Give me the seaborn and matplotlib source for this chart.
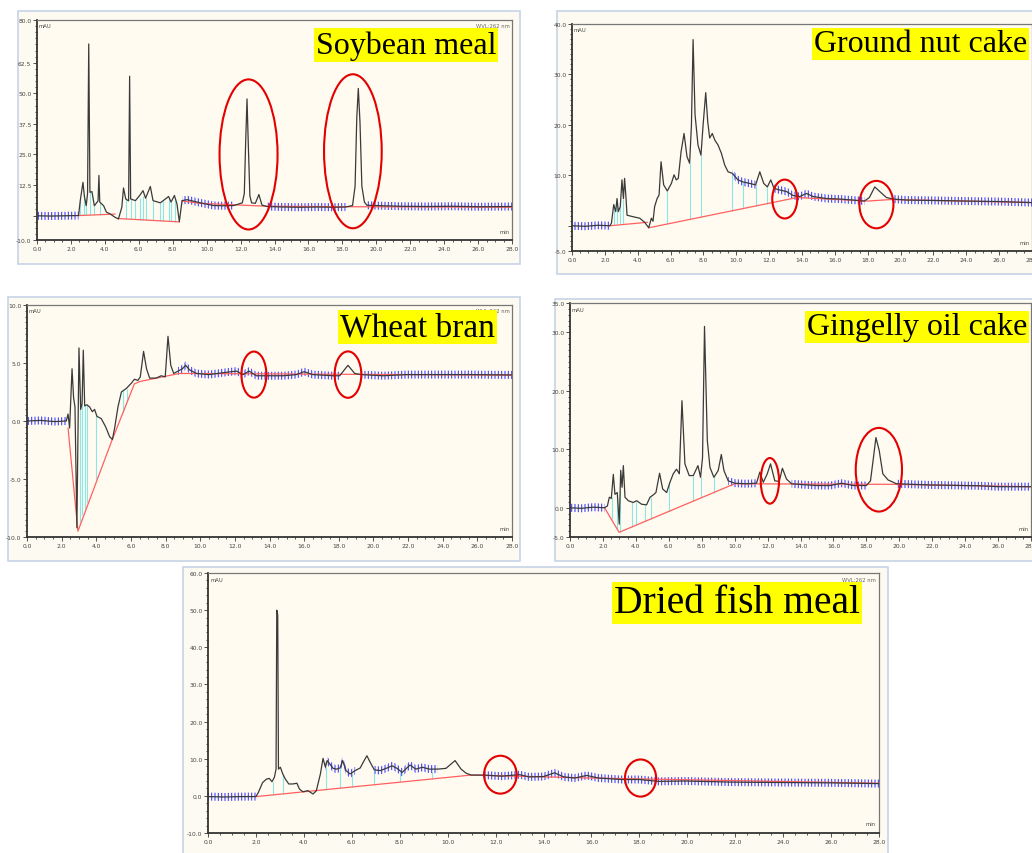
import numpy as np
import matplotlib
matplotlib.use("Agg")
import matplotlib.pyplot as plt
import seaborn as sns
from matplotlib.patches import Ellipse, Rectangle
from matplotlib.ticker import MultipleLocator

W, H = 1032, 854

# ---- Soybean meal ----
soy_t = [0.0, 0.8, 1.6, 2.45, 2.55, 2.71, 2.79, 2.9, 2.98, 3.05, 3.12, 3.24, 3.38, 3.6, 3.65,
         3.7, 3.93, 4.09, 4.3, 4.6, 4.8, 5.0, 5.1, 5.23, 5.4, 5.46, 5.52, 5.8, 6.05, 6.25,
         6.4, 6.68, 6.84, 7.27, 7.76, 7.9, 8.1, 8.25, 8.39, 8.55, 8.84, 9.63, 10.4, 11.0, 11.6,
         12.1, 12.22, 12.3, 12.38, 12.46, 12.55, 12.65, 12.87, 13.08, 13.26, 13.55, 14.5, 15.5,
         16.5, 17.5, 18.2, 18.6, 18.75, 18.85, 18.94, 19.04, 19.15, 19.3, 19.45, 20.4, 21.5,
         23.0, 24.5, 26.0, 28.0]
soy_y = [-0.1, -0.2, -0.1, 0.0, 6.1, 13.6, 8.0, 4.0, 9.0, 70.2, 9.5, 9.8, 4.0, 6.0, 16.4,
         5.5, 4.0, 1.4, 0.7, -0.7, -1.4, 3.4, 11.3, 6.8, 6.0, 57.0, 6.8, 6.1, 8.2, 10.2,
         7.1, 11.9, 6.1, 5.2, 7.8, 5.5, 8.2, 4.8, -2.5, 6.1, 6.5, 5.2, 4.1, 4.0, 4.1,
         5.2, 9.0, 30.0, 47.7, 28.0, 8.0, 5.2, 5.0, 8.6, 4.3, 3.7, 3.5, 3.4,
         3.5, 3.4, 3.5, 4.1, 12.0, 40.0, 52.0, 38.0, 12.0, 5.5, 4.2, 4.0, 3.8,
         3.7, 3.8, 3.6, 3.7]
soy_base = [([2.45, 4.6], [0.0, 0.6]),
            ([4.75, 8.4], [-1.2, -2.6]),
            ([8.55, 9.6, 13.6, 18.6, 28.0], [6.0, 5.0, 3.8, 3.6, 3.4])]
soy_drop_t = [2.55, 2.79, 2.9, 3.12, 3.38, 3.7, 5.25, 5.54, 5.8, 6.05, 6.25, 6.4, 6.84, 7.27,
              7.45, 7.76, 7.9, 8.15]
soy_drop_top = [6.1, 8.0, 4.0, 9.5, 4.0, 5.5, 6.8, 6.8, 6.1, 7.0, 8.0, 7.1, 6.1, 5.2,
                6.0, 7.0, 5.5, 6.5]
soy_drop_bot = [0.1, 0.15, 0.2, 0.25, 0.3, 0.4, -1.4, -1.5, -1.6, -1.7, -1.75, -1.83, -2.0,
                -2.15, -2.25, -2.35, -2.4, -2.5]
soy_circles = [(12.47, 25.0, 3.42, 61.4), (18.62, 26.3, 3.4, 63.0)]
soy_spans = [(0, 2.45), (8.5, 11.9), (13.4, 18.4), (19.4, 28)]

# ---- Ground nut cake ----
gnut_t = [0.0, 0.8, 1.6, 2.3, 2.4, 2.54, 2.66, 2.74, 2.82, 2.94, 3.04, 3.13, 3.2, 3.29, 3.35,
          3.71, 4.12, 4.42, 4.67, 4.83, 4.93, 5.03, 5.18, 5.3, 5.42, 5.58, 5.8, 6.05, 6.21,
          6.35, 6.47, 6.64, 6.82, 7.0, 7.16, 7.27, 7.37, 7.49, 7.67, 7.85, 7.98, 8.14, 8.26,
          8.38, 8.54, 8.69, 8.89, 9.09, 9.3, 9.5, 9.76, 10.1, 10.4, 10.82, 11.18, 11.43,
          11.67, 11.89, 12.1, 12.3, 12.64, 13.05, 13.46, 13.86, 14.27, 14.67, 15.5, 16.3,
          17.1, 17.8, 18.1, 18.43, 18.73, 19.14, 19.55, 20.36, 22.4, 24.0, 26.0, 28.0]
gnut_y = [0.0, -0.1, 0.1, 0.0, 0.5, 4.2, 2.8, 5.4, 2.8, 3.8, 9.1, 5.4, 9.4, 5.4, 2.1,
          1.8, 1.5, 0.7, -0.4, 1.5, 0.9, 3.8, 5.4, 6.1, 12.7, 8.1, 6.9, 8.4, 10.1,
          9.1, 9.4, 14.7, 18.3, 13.7, 12.4, 20.0, 36.9, 22.0, 16.0, 14.0, 20.0, 26.4, 20.7,
          17.4, 18.3, 17.0, 16.0, 14.4, 12.0, 10.7, 10.4, 9.1, 8.7, 8.4, 8.1, 10.7,
          8.4, 7.7, 9.1, 7.4, 7.1, 6.8, 6.0, 5.8, 6.4, 5.8, 5.4, 5.3,
          5.1, 4.9, 5.6, 7.7, 6.8, 5.6, 5.3, 5.1, 5.0, 4.9, 4.8, 4.6]
gnut_base = [([2.3, 4.6], [0.0, 0.7]),
             ([4.67, 13.7], [-0.4, 5.6]),
             ([13.7, 18.0, 19.4, 28.0], [5.6, 4.9, 5.2, 4.6])]
gnut_drop_t = [2.54, 2.74, 2.94, 3.13, 5.8, 7.16, 7.85, 9.76, 10.4, 11.18, 11.89]
gnut_drop_top = [4.2, 5.4, 3.8, 5.4, 6.9, 12.4, 14.0, 10.4, 8.7, 8.1, 7.7]
gnut_drop_bot = [0.2, 0.3, 0.3, 0.4, 0.35, 1.25, 1.7, 3.0, 3.4, 3.9, 4.4]
gnut_circles = [(12.95, 5.3, 1.52, 7.7), (18.53, 4.2, 2.07, 9.4)]
gnut_spans = [(0, 2.3), (9.7, 11.3), (12.3, 17.9), (19.5, 28)]

# ---- Wheat bran ----
wheat_t = [0.0, 0.8, 1.6, 2.27, 2.37, 2.46, 2.6, 2.69, 2.77, 2.88, 3.0, 3.1, 3.18, 3.25, 3.33,
           3.46, 3.62, 3.77, 3.9, 4.04, 4.29, 4.54, 4.77, 4.93, 5.06, 5.25, 5.45, 5.73, 6.02,
           6.2, 6.4, 6.54, 6.73, 6.9, 7.08, 7.46, 7.75, 7.98, 8.14, 8.3, 8.47, 8.72, 8.97,
           9.16, 9.39, 9.78, 10.5, 11.5, 12.1, 12.47, 12.82, 13.24, 13.8, 14.8, 15.55, 16.0,
           16.5, 17.7, 18.05, 18.53, 18.92, 19.3, 20.55, 21.9, 23.4, 25.5, 28.0]
wheat_y = [0.0, 0.05, -0.05, 0.0, 0.6, -0.6, 4.5, 2.0, 1.2, -9.2, 6.3, 1.0, 1.5, 6.1, 1.3,
           1.4, 1.2, 0.8, 1.0, 0.4, 0.2, -0.5, -1.35, -1.6, -0.6, 1.2, 2.5, 2.8, 3.25,
           3.6, 3.5, 3.8, 6.0, 4.5, 3.7, 3.7, 3.9, 3.8, 7.3, 4.8, 4.1, 4.3, 4.5,
           4.8, 4.4, 4.1, 4.0, 4.2, 4.3, 4.0, 4.3, 3.9, 3.9, 3.9, 4.0, 4.25,
           4.0, 3.9, 3.9, 4.8, 4.1, 4.0, 3.9, 4.0, 4.0, 4.0, 3.97]
wheat_base = [([2.37, 2.94, 4.87, 6.2, 6.5, 8.8, 28.0], [-0.6, -9.5, -1.8, 3.2, 3.4, 4.1, 3.95])]
wheat_drop_t = [3.04, 3.18, 3.33, 3.46, 4.0, 5.54, 5.77]
wheat_drop_top = [2.3, 1.5, 1.3, 1.4, 0.5, 2.6, 2.8]
wheat_drop_bot = [-8.7, -8.1, -7.6, -7.1, -5.0, 0.7, 1.6]
wheat_circles = [(13.1, 4.0, 1.44, 3.97), (18.53, 4.0, 1.54, 4.0)]
wheat_spans = [(0, 2.3), (8.6, 18.2), (19.0, 28)]

# ---- Gingelly oil cake ----
ging_t = [0.0, 0.7, 1.4, 2.1, 2.27, 2.39, 2.51, 2.63, 2.73, 2.87, 2.99, 3.08, 3.16, 3.24, 3.34,
          3.54, 3.84, 4.05, 4.35, 4.65, 4.86, 5.06, 5.22, 5.44, 5.63, 5.87, 6.07, 6.27, 6.47,
          6.64, 6.8, 6.98, 7.24, 7.49, 7.77, 7.93, 8.05, 8.17, 8.34, 8.5, 8.74, 9.0, 9.19,
          9.35, 9.61, 10.0, 10.7, 11.33, 11.53, 11.74, 11.98, 12.18, 12.44, 12.71, 12.9, 13.15,
          13.46, 14.16, 14.97, 15.8, 16.5, 17.2, 18.0, 18.25, 18.41, 18.58, 18.78, 19.0, 19.32,
          19.83, 21.85, 24.9, 26.0, 28.0]
ging_y = [0.0, -0.1, 0.1, 0.0, 0.3, 1.8, 1.6, 5.7, 2.3, 2.6, -2.8, 6.4, 3.5, 7.2, 1.8,
          1.2, 0.9, 1.2, 0.6, 0.5, 1.8, 2.2, 2.6, 5.9, 3.2, 2.6, 4.35, 5.8, 6.6,
          5.8, 18.3, 7.5, 5.5, 5.5, 7.2, 5.2, 8.6, 31.0, 11.5, 6.9, 5.2, 6.35, 9.1,
          6.35, 4.6, 4.2, 4.1, 4.2, 6.1, 4.35, 5.8, 7.5, 4.6, 4.5, 6.75, 4.9,
          4.1, 3.95, 3.8, 3.8, 4.2, 3.8, 3.8, 4.6, 8.1, 12.0, 9.8, 5.8, 4.75,
          4.1, 3.9, 3.75, 3.6, 3.6]
ging_base = [([2.1, 2.98, 10.0, 19.7, 28.0], [0.0, -4.2, 4.1, 4.0, 3.6])]
ging_drop_t = [2.53, 2.87, 3.04, 3.74, 4.0, 4.55, 4.92, 6.03, 7.49, 7.93, 8.74]
ging_drop_top = [1.8, 2.6, 3.0, 1.0, 0.9, 0.5, 1.8, 4.2, 5.5, 5.2, 5.2]
ging_drop_bot = [-2.0, -3.7, -4.1, -3.3, -3.0, -2.35, -1.9, -0.6, 1.1, 1.6, 2.6]
ging_circles = [(12.14, 4.6, 1.11, 7.8), (18.76, 6.5, 2.81, 14.3)]
ging_spans = [(0, 2.1), (9.6, 11.4), (13.3, 18.1), (19.6, 28)]

# ---- Dried fish meal ----
fish_t = [0.0, 0.7, 1.4, 2.0, 2.1, 2.28, 2.44, 2.56, 2.67, 2.77, 2.84, 2.87, 2.91, 2.94, 3.02,
          3.12, 3.23, 3.37, 3.54, 3.71, 3.82, 3.96, 4.17, 4.38, 4.52, 4.69, 4.8, 4.9, 4.97,
          5.08, 5.22, 5.37, 5.51, 5.62, 5.76, 5.93, 6.14, 6.35, 6.49, 6.63, 6.77, 6.94, 7.19,
          7.47, 7.68, 7.89, 8.1, 8.43, 8.67, 8.95, 9.23, 9.58, 9.93, 10.31, 10.56, 10.77, 10.98,
          11.5, 12.25, 13.0, 13.4, 14.0, 14.46, 14.85, 15.3, 15.8, 16.3, 17.25, 18.0, 18.8,
          19.9, 21.85, 23.8, 26.0, 28.0]
fish_y = [-0.2, -0.3, -0.2, -0.2, 0.9, 3.6, 4.5, 4.7, 3.8, 5.0, 7.2, 50.0, 48.6, 7.2, 7.7,
          5.9, 4.5, 3.2, 3.2, 3.4, 1.8, 1.1, 1.4, 0.5, 1.35, 5.9, 10.1, 7.7, 9.5,
          8.6, 7.4, 7.2, 7.5, 9.5, 6.8, 5.9, 6.8, 7.5, 9.2, 10.8, 9.0, 7.0, 6.8,
          7.5, 8.1, 7.4, 6.3, 8.3, 7.2, 7.7, 7.2, 7.2, 7.4, 9.5, 7.2, 6.1, 5.6,
          5.6, 5.3, 5.7, 5.1, 5.2, 6.2, 5.1, 4.8, 5.5, 4.8, 4.4, 4.4, 3.9,
          4.0, 3.7, 3.6, 3.5, 3.3]
fish_base = [([2.0, 10.98, 16.0, 28.0], [-0.2, 5.6, 4.8, 3.4])]
fish_drop_t = [2.72, 3.12, 4.92, 5.51, 6.0, 6.94, 8.03, 9.35]
fish_drop_top = [3.8, 5.9, 7.7, 7.5, 5.9, 7.0, 6.5, 6.3]
fish_drop_bot = [0.25, 0.5, 1.7, 2.05, 2.4, 3.0, 3.7, 4.55]
fish_circles = [(12.2, 5.7, 1.36, 10.2), (18.05, 4.8, 1.3, 10.0)]
fish_spans = [(0, 2.0), (4.9, 6.2), (6.9, 9.6), (11.0, 28)]

titles = ["Soybean meal", "Ground nut cake", "Wheat bran", "Gingelly oil cake", "Dried fish meal"]

sns.set_theme(style="ticks")
plt.rcParams['font.family'] = ['DejaVu Sans']
plt.rcParams['hatch.linewidth'] = 0.75

fig = plt.figure(figsize=(W / 100, H / 100), dpi=100)
fig.patch.set_facecolor('white')


def frame(l, t, r, b):
    fig.add_artist(Rectangle((l / W, 1 - b / H), (r - l) / W, (b - t) / H,
                             transform=fig.transFigure, facecolor='#FDFAF1',
                             edgecolor='#C8D3E6', lw=1.2, zorder=-1))


def px_axes(l, t, r, b):
    return fig.add_axes([l / W, 1 - b / H, (r - l) / W, (b - t) / H])


def draw_panel(ax, t, y, base, dt, dtop, dbot, circles, spans, ylim, yticks, ylabels, yminor,
               px_h, wvl=True):
    t = np.asarray(t)
    y = np.asarray(y)
    ax.set_facecolor('#FFFBF0')
    # blue integration marks along the quiet parts of the trace
    mask = np.zeros(len(t), dtype=bool)
    for a, b in spans:
        mask |= (t >= a) & (t <= b)
    h = 4.0 * (ylim[1] - ylim[0]) / px_h
    ax.fill_between(t, y - h, y + h, where=mask, facecolor='none', edgecolor='#3a3aff',
                    hatch='|||||', linewidth=0, zorder=2)
    ax.vlines(dt, dbot, dtop, color='#8CE6E6', lw=0.8, zorder=1)
    for bt, by in base:
        ax.plot(bt, by, color='#FF5F5F', lw=0.9, zorder=3)
    sns.lineplot(x=t, y=y, ax=ax, color='#3a3a3a', linewidth=0.9,
                 estimator=None, sort=False, zorder=4)
    for cx, cy, w, hh in circles:
        ax.add_patch(Ellipse((cx, cy), w, hh, fill=False, ec='#E30000', lw=1.5, zorder=5))
    ax.set_xlim(0, 28)
    ax.set_ylim(*ylim)
    xt = np.arange(0, 28.1, 2)
    ax.set_xticks(xt, labels=[f"{v:.1f}" for v in xt])
    ax.xaxis.set_minor_locator(MultipleLocator(0.5))
    ax.set_yticks(yticks, labels=ylabels)
    ax.yaxis.set_minor_locator(MultipleLocator(yminor))
    ax.tick_params(which='both', direction='out', color='#333333', width=0.6,
                   labelsize=4.3, labelcolor='#444444', pad=1)
    ax.tick_params(which='major', length=3)
    ax.tick_params(which='minor', length=1.5)
    for s in ax.spines.values():
        s.set_color('#777777')
        s.set_linewidth(0.9)
    for s in ('left', 'bottom'):
        ax.spines[s].set_color('#333333')
        ax.spines[s].set_linewidth(1.3)
    ax.set_xlabel('')
    ax.set_ylabel('')
    ax.text(0.004, 0.985, 'mAU', transform=ax.transAxes, fontsize=3.8, va='top', color='#444444')
    ax.text(0.995, 0.025, 'min', transform=ax.transAxes, fontsize=3.8, ha='right',
            va='bottom', color='#444444')
    if wvl:
        ax.text(0.995, 0.985, 'WVL:262 nm', transform=ax.transAxes, fontsize=3.8, ha='right',
                va='top', color='#666666')


def title(text, right, cy, size):
    fig.text((right - 2) / W, 1 - cy / H, text, ha='right', va='center', fontsize=size,
             family='Liberation Serif', color='black', zorder=10,
             bbox=dict(boxstyle='square,pad=0.06', fc='#FFFF00', ec='none'))


def lab(vals, blank=()):
    return ['' if v in blank else f"{v:.1f}" for v in vals]


# frames (screenshot windows)
frame(18, 12, 520, 265)
frame(557, 12, 1040, 275)
frame(8, 298, 520, 562)
frame(555, 300, 1040, 562)
frame(183, 568, 888, 860)

ax1 = px_axes(37, 21, 512, 241)
yt = [-10, 0, 12.5, 25, 37.5, 50, 62.5, 80]
draw_panel(ax1, soy_t, soy_y, soy_base, soy_drop_t, soy_drop_top, soy_drop_bot, soy_circles,
           soy_spans, (-10, 80), yt, lab(yt, blank=(0,)), 2.5, 220)

ax2 = px_axes(572, 25, 1032, 252)
yt = [-5, 0, 10, 20, 30, 40]
draw_panel(ax2, gnut_t, gnut_y, gnut_base, gnut_drop_t, gnut_drop_top, gnut_drop_bot,
           gnut_circles, gnut_spans, (-5, 40), yt, lab(yt, blank=(0,)), 1.0, 227, wvl=False)

ax3 = px_axes(27, 306, 512, 538)
yt = [-10, -5, 0, 5, 10]
draw_panel(ax3, wheat_t, wheat_y, wheat_base, wheat_drop_t, wheat_drop_top, wheat_drop_bot,
           wheat_circles, wheat_spans, (-10, 10), yt, lab(yt), 0.5, 232)

ax4 = px_axes(570, 304, 1031, 538)
yt = [-5, 0, 10, 20, 30, 35]
draw_panel(ax4, ging_t, ging_y, ging_base, ging_drop_t, ging_drop_top, ging_drop_bot,
           ging_circles, ging_spans, (-5, 35), yt, lab(yt), 1.0, 234, wvl=False)

ax5 = px_axes(208, 574, 879, 834)
yt = [-10, 0, 10, 20, 30, 40, 50, 60]
draw_panel(ax5, fish_t, fish_y, fish_base, fish_drop_t, fish_drop_top, fish_drop_bot,
           fish_circles, fish_spans, (-10, 60), yt, lab(yt), 2.0, 260)

title(titles[0], 498, 46, 23)
title(titles[1], 1029, 45, 23)
title(titles[2], 497, 328, 24)
title(titles[3], 1029, 328, 23)
title(titles[4], 862, 604, 28.5)

fig.savefig('out.png', dpi=100)
